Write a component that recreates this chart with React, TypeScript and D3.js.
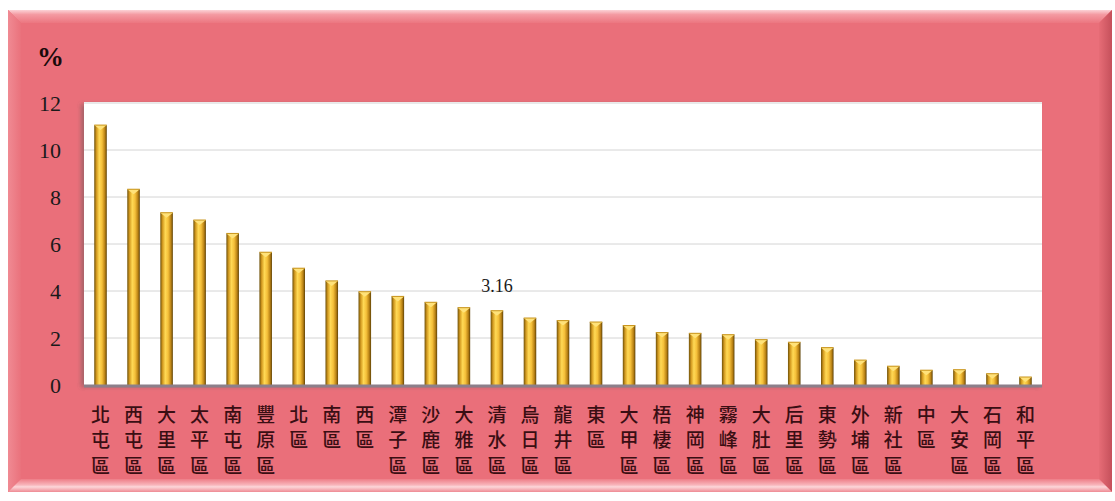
import React from "react";
import * as d3 from "d3";

const districts = [
  "北屯區", "西屯區", "大里區", "太平區", "南屯區", "豐原區", "北區", "南區", "西區", "潭子區",
  "沙鹿區", "大雅區", "清水區", "烏日區", "龍井區", "東區", "大甲區", "梧棲區", "神岡區", "霧峰區",
  "大肚區", "后里區", "東勢區", "外埔區", "新社區", "中區", "大安區", "石岡區", "和平區",
];
const shares = [
  11.06, 8.33, 7.33, 7.02, 6.45, 5.65, 4.97, 4.43, 3.97, 3.77,
  3.52, 3.29, 3.16, 2.85, 2.74, 2.68, 2.53, 2.23, 2.2, 2.14,
  1.93, 1.82, 1.59, 1.06, 0.8, 0.63, 0.65, 0.48, 0.34,
];
const yTicks = [0, 2, 4, 6, 8, 10, 12];
const labelled = ["清水區"];

const W = 1115;
const H = 501;
const plot = { left: 84, right: 1042, top: 102, bottom: 385 };
const frame = { x0: 8, y0: 10, x1: 1112, y1: 492, bev: 13 };

const App: React.FC = () => {
  const x = d3
    .scaleBand<string>()
    .domain(districts)
    .range([plot.left, plot.right])
    .paddingInner(0.62)
    .paddingOuter(0.31);
  const y = d3.scaleLinear().domain([0, 12]).range([plot.bottom, 103]);

  const serif = "'Liberation Serif', 'Times New Roman', serif";
  const cjk = "'Noto Sans CJK TC', 'Noto Sans CJK JP', sans-serif";
  const { x0, y0, x1, y1, bev } = frame;

  return (
    <svg width={W} height={H} style={{ position: "absolute", left: 0, top: 0, background: "#fff" }}>
      <defs>
        <linearGradient id="gold" x1="0" x2="1" y1="0" y2="0">
          <stop offset="0" stopColor="#6e5008" />
          <stop offset="0.18" stopColor="#d39a20" />
          <stop offset="0.4" stopColor="#ffd955" />
          <stop offset="0.62" stopColor="#f5c03a" />
          <stop offset="0.85" stopColor="#b98114" />
          <stop offset="1" stopColor="#5e4206" />
        </linearGradient>
        <linearGradient id="topBev" x1="0" x2="0" y1="0" y2="1">
          <stop offset="0" stopColor="#fbd2d6" />
          <stop offset="0.35" stopColor="#f49aa2" />
          <stop offset="1" stopColor="#ec7680" />
        </linearGradient>
        <linearGradient id="botBev" x1="0" x2="0" y1="0" y2="1">
          <stop offset="0" stopColor="#ee7d87" />
          <stop offset="0.45" stopColor="#f8b4ba" />
          <stop offset="0.6" stopColor="#fcd6d9" />
          <stop offset="1" stopColor="#ef8a93" />
        </linearGradient>
        <linearGradient id="rightBev" x1="0" x2="1" y1="0" y2="0">
          <stop offset="0" stopColor="#e66c76" />
          <stop offset="1" stopColor="#c5505b" />
        </linearGradient>
        <linearGradient id="leftBev" x1="0" x2="1" y1="0" y2="0">
          <stop offset="0" stopColor="#f08a93" />
          <stop offset="1" stopColor="#ea727c" />
        </linearGradient>
        <filter id="plotShadow" x="-5%" y="-5%" width="110%" height="115%">
          <feDropShadow dx="-3" dy="2" stdDeviation="2" floodColor="#555" floodOpacity="0.45" />
        </filter>
      </defs>

      {/* beveled pink frame */}
      <rect x={x0} y={y0} width={x1 - x0} height={y1 - y0} fill="#ea6f7a" />
      <polygon points={`${x0},${y0} ${x1},${y0} ${x1 - bev},${y0 + bev} ${x0 + bev},${y0 + bev}`} fill="url(#topBev)" />
      <polygon points={`${x0},${y0} ${x0 + bev},${y0 + bev} ${x0 + bev},${y1 - bev} ${x0},${y1}`} fill="url(#leftBev)" />
      <polygon points={`${x1},${y0} ${x1},${y1} ${x1 - bev},${y1 - bev} ${x1 - bev},${y0 + bev}`} fill="url(#rightBev)" />
      <polygon points={`${x0},${y1} ${x0 + bev},${y1 - bev} ${x1 - bev},${y1 - bev} ${x1},${y1}`} fill="url(#botBev)" />

      {/* plot area */}
      <rect
        x={plot.left}
        y={plot.top}
        width={plot.right - plot.left}
        height={plot.bottom - plot.top}
        fill="#fff"
        filter="url(#plotShadow)"
      />
      {yTicks.filter((t) => t > 0).map((t) => (
        <line key={t} x1={plot.left} x2={plot.right} y1={y(t)} y2={y(t)} stroke="#d4d4d4" strokeWidth={1} />
      ))}

      {/* bars */}
      {districts.map((d, i) => {
        const bx = x(d)!;
        const bw = x.bandwidth();
        const top = y(shares[i]);
        return (
          <g key={d}>
            <rect x={bx} y={top} width={bw} height={plot.bottom - top} fill="url(#gold)" />
            <polygon points={`${bx},${top} ${bx + bw},${top} ${bx + bw / 2},${top + 5}`} fill="#ffe27a" />
            <line x1={bx} x2={bx + bw} y1={top} y2={top} stroke="#c8941c" strokeWidth={1} />
          </g>
        );
      })}

      {/* baseline axis */}
      <line x1={plot.left} x2={plot.right} y1={plot.bottom + 1} y2={plot.bottom + 1} stroke="#8c7f8a" strokeWidth={3} />

      {/* data label */}
      {districts.map((d, i) =>
        labelled.includes(d) ? (
          <text
            key={d}
            x={x(d)! + x.bandwidth() / 2}
            y={y(shares[i]) - 19}
            textAnchor="middle"
            fontFamily={serif}
            fontSize={18}
            fill="#1a1a1a"
          >
            {shares[i].toFixed(2)}
          </text>
        ) : null
      )}

      {/* y ticks */}
      {yTicks.map((t) => (
        <text key={t} x={61} y={y(t)} dy="0.35em" textAnchor="end" fontFamily={serif} fontSize={22} fill="#1a1a1a">
          {t}
        </text>
      ))}
      <text x={37} y={66} fontFamily={serif} fontSize={27} fontWeight="bold" fill="#1a0a0a">
        %
      </text>

      {/* category labels, one character per line */}
      {districts.map((d) => (
        <text
          key={d}
          x={x(d)! + x.bandwidth() / 2}
          y={415}
          textAnchor="middle"
          fontFamily={cjk}
          fontSize={19}
          fontWeight={500}
          fill="#3a0e13"
        >
          {Array.from(d).map((ch, k) => (
            <tspan key={k} x={x(d)! + x.bandwidth() / 2} y={415 + k * 25.5} dy="0.35em">
              {ch}
            </tspan>
          ))}
        </text>
      ))}
    </svg>
  );
};

export default App;
